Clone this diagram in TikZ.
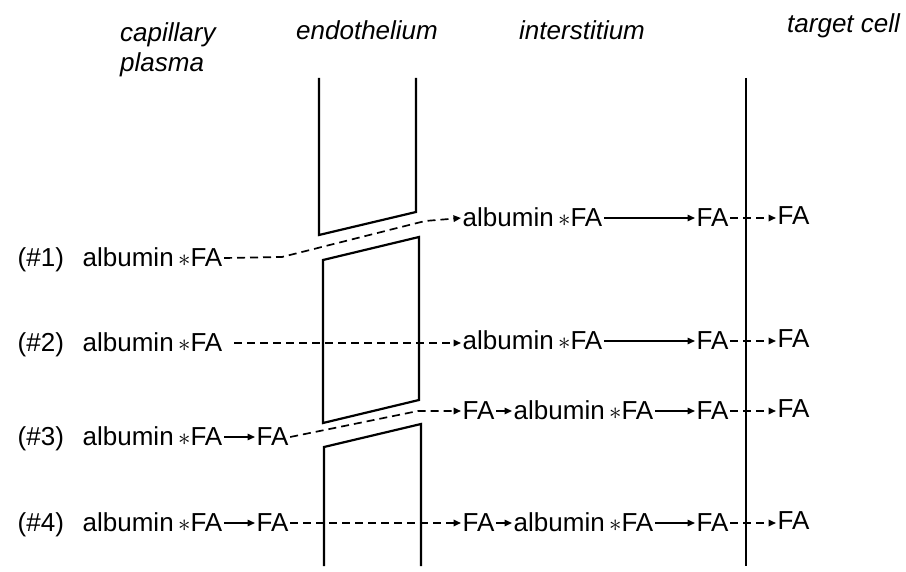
\documentclass[tikz,border=0pt]{standalone}
\usepackage{fontspec}
\setmainfont{Liberation Sans}
\usetikzlibrary{arrows.meta}
\newcommand\albfa{albumin{\,$\ast$}FA}
\begin{document}
\begin{tikzpicture}[x=1pt,y=-1pt,
 lbl/.style={font=\fontsize{26}{30}\selectfont, inner xsep=1.5pt, inner ysep=0pt, text height=17pt, text depth=0pt, anchor=west},
 head/.style={font=\fontsize{26}{30}\selectfont\itshape, inner sep=0pt, anchor=base west},
 wall/.style={line width=2.2pt, line join=miter},
 membrane/.style={line width=2pt},
 solidarr/.style={line width=1.5pt, -{Triangle[length=7.5pt,width=6.5pt]}},
 dasharr/.style={line width=1.7pt, dash pattern=on 8pt off 5pt, -{Triangle[length=7.5pt,width=6.5pt]}},
]
\useasboundingbox (0,0) rectangle (906,572);

% headings
\node[head] (hcap) at (120,42) {capillary};
\node[head] (hpla) at (120,72) {plasma};
\node[head] (hend) at (296,40) {endothelium};
\node[head] (hint) at (519,40) {interstitium};
\node[head] (htar) at (787,33) {target cell};

% endothelium walls
\draw[wall] (319,78) -- (319,235) -- (416,212) -- (416,78);
\draw[wall] (323,260) -- (419,237) -- (419,400) -- (323,423) -- cycle;
\draw[wall] (324,566) -- (324,447) -- (421,424) -- (421,566);
% target cell membrane
\draw[membrane] (746,78) -- (746,566);

% row 1
\node[lbl] (n1) at (16,258) {(\#1)};
\node[lbl] (a1) at (81,258) {\albfa};
\node[lbl] (b1) at (461,218) {\albfa};
\node[lbl] (c1) at (695,218) {FA};
\node[lbl] (d1) at (776,216) {FA};
\draw[dasharr] (a1.east) -- (282,257) -- (425,221) -- (b1.west);
\draw[solidarr] (b1.east) -- (c1.west);
\draw[dasharr] (c1.east) -- (c1.east -| d1.west);

% row 2
\node[lbl] (n2) at (16,343) {(\#2)};
\node[lbl] (a2) at (81,343) {\albfa};
\node[lbl] (b2) at (461,341) {\albfa};
\node[lbl] (c2) at (695,341) {FA};
\node[lbl] (d2) at (776,339) {FA};
\draw[dasharr] (a2.east) ++(10,0) coordinate (s2) -- (s2 -| b2.west);
\draw[solidarr] (b2.east) -- (c2.west);
\draw[dasharr] (c2.east) -- (c2.east -| d2.west);

% row 3
\node[lbl] (n3) at (16,437) {(\#3)};
\node[lbl] (a3) at (81,437) {\albfa};
\node[lbl] (f3) at (255,437) {FA};
\node[lbl] (e3) at (461,411) {FA};
\node[lbl] (b3) at (512,411) {\albfa};
\node[lbl] (c3) at (695,411) {FA};
\node[lbl] (d3) at (776,409) {FA};
\draw[solidarr] (a3.east) -- (f3.west);
\draw[dasharr] (f3.east) -- (418,411) -- (e3.west);
\draw[solidarr] (e3.east) -- (b3.west);
\draw[solidarr] (b3.east) -- (c3.west);
\draw[dasharr] (c3.east) -- (c3.east -| d3.west);

% row 4
\node[lbl] (n4) at (16,523) {(\#4)};
\node[lbl] (a4) at (81,523) {\albfa};
\node[lbl] (f4) at (255,523) {FA};
\node[lbl] (e4) at (461,523) {FA};
\node[lbl] (b4) at (512,523) {\albfa};
\node[lbl] (c4) at (695,523) {FA};
\node[lbl] (d4) at (776,521) {FA};
\draw[solidarr] (a4.east) -- (f4.west);
\draw[dasharr] (f4.east) -- (e4.west);
\draw[solidarr] (e4.east) -- (b4.west);
\draw[solidarr] (b4.east) -- (c4.west);
\draw[dasharr] (c4.east) -- (c4.east -| d4.west);
\end{tikzpicture}
\end{document}
